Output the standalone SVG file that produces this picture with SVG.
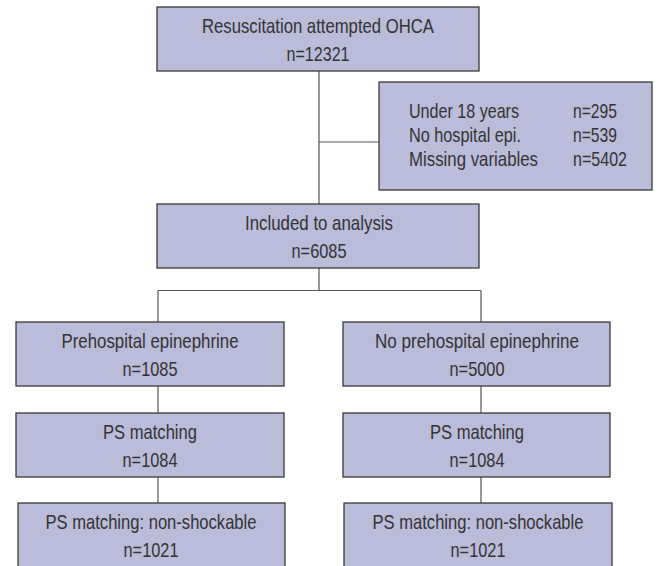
<svg xmlns="http://www.w3.org/2000/svg" width="657" height="566" viewBox="0 0 657 566">
<style>
.box{fill:#bbbbda;stroke:#3a3a3a;stroke-width:1.3}
.t{font-family:"Liberation Sans",Arial,sans-serif;font-size:21px;fill:#333;text-anchor:middle}
.s{text-anchor:start}
.c{fill:none;stroke:#555;stroke-width:1.2}
</style>
<rect width="657" height="566" fill="#fff"/>
<g id="connectors">
<path class="c" d="M319,71V204M319,142H379"/>
<path class="c" d="M319,268V290.5M158,290.5H481M158,290.5V322M481,290.5V322"/>
<path class="c" d="M158,386V413M481,386V413M158,477V503M481,477V503"/>
</g>
<g id="n_top">
<rect class="box" x="157" y="7" width="322" height="64"/>
<text class="t" x="318" y="33" textLength="232" lengthAdjust="spacingAndGlyphs">Resuscitation attempted OHCA</text>
<text class="t" x="318" y="61" textLength="63" lengthAdjust="spacingAndGlyphs">n=12321</text>
</g>
<g id="n_excl">
<rect class="box" x="379" y="82" width="273" height="108"/>
<text class="t s" x="409" y="118" textLength="110" lengthAdjust="spacingAndGlyphs">Under 18 years</text>
<text class="t s" x="573" y="118" textLength="44" lengthAdjust="spacingAndGlyphs">n=295</text>
<text class="t s" x="409" y="142" textLength="112" lengthAdjust="spacingAndGlyphs">No hospital epi.</text>
<text class="t s" x="573" y="142" textLength="44" lengthAdjust="spacingAndGlyphs">n=539</text>
<text class="t s" x="409" y="166" textLength="129" lengthAdjust="spacingAndGlyphs">Missing variables</text>
<text class="t s" x="573" y="166" textLength="54" lengthAdjust="spacingAndGlyphs">n=5402</text>
</g>
<g id="n_incl">
<rect class="box" x="157" y="204" width="322" height="64"/>
<text class="t" x="319" y="230" textLength="148" lengthAdjust="spacingAndGlyphs">Included to analysis</text>
<text class="t" x="319" y="258" textLength="55" lengthAdjust="spacingAndGlyphs">n=6085</text>
</g>
<g id="n_pre">
<rect class="box" x="16" y="322" width="268" height="64"/>
<text class="t" x="150" y="348" textLength="177" lengthAdjust="spacingAndGlyphs">Prehospital epinephrine</text>
<text class="t" x="150" y="376" textLength="55" lengthAdjust="spacingAndGlyphs">n=1085</text>
</g>
<g id="n_nopre">
<rect class="box" x="343" y="322" width="267" height="64"/>
<text class="t" x="477" y="348" textLength="204" lengthAdjust="spacingAndGlyphs">No prehospital epinephrine</text>
<text class="t" x="477" y="376" textLength="55" lengthAdjust="spacingAndGlyphs">n=5000</text>
</g>
<g id="n_ps1">
<rect class="box" x="16" y="413" width="268" height="64"/>
<text class="t" x="150" y="439" textLength="94" lengthAdjust="spacingAndGlyphs">PS matching</text>
<text class="t" x="150" y="467" textLength="55" lengthAdjust="spacingAndGlyphs">n=1084</text>
</g>
<g id="n_ps2">
<rect class="box" x="343" y="413" width="267" height="64"/>
<text class="t" x="477" y="439" textLength="94" lengthAdjust="spacingAndGlyphs">PS matching</text>
<text class="t" x="477" y="467" textLength="55" lengthAdjust="spacingAndGlyphs">n=1084</text>
</g>
<g id="n_ns1">
<rect class="box" x="18" y="503" width="267" height="70"/>
<text class="t" x="151" y="529" textLength="211" lengthAdjust="spacingAndGlyphs">PS matching: non-shockable</text>
<text class="t" x="151" y="557" textLength="55" lengthAdjust="spacingAndGlyphs">n=1021</text>
</g>
<g id="n_ns2">
<rect class="box" x="344" y="503" width="268" height="70"/>
<text class="t" x="478" y="529" textLength="211" lengthAdjust="spacingAndGlyphs">PS matching: non-shockable</text>
<text class="t" x="478" y="557" textLength="55" lengthAdjust="spacingAndGlyphs">n=1021</text>
</g>
</svg>
